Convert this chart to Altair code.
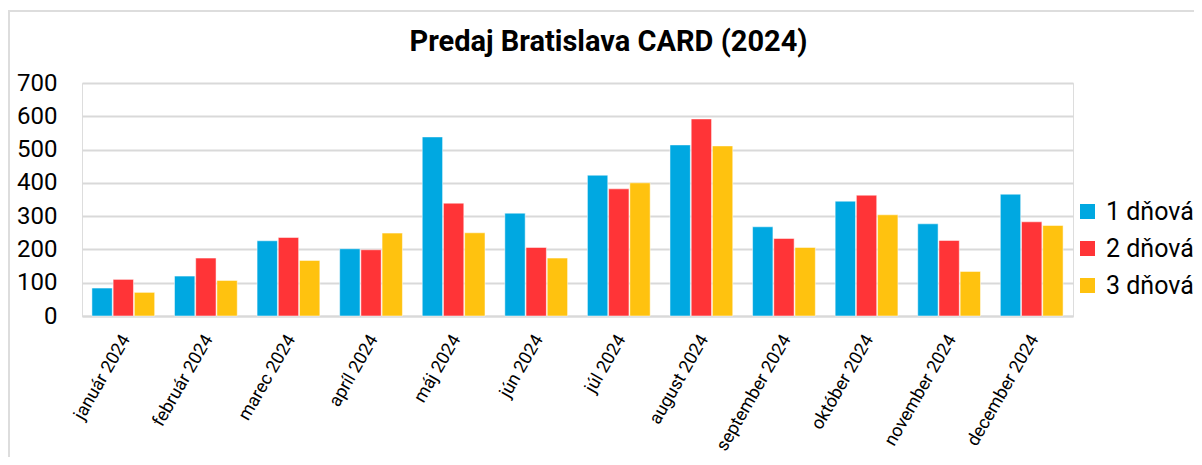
import altair as alt
import pandas as pd

months = ["január 2024", "február 2024", "marec 2024", "apríl 2024", "máj 2024", "jún 2024",
          "júl 2024", "august 2024", "september 2024", "október 2024", "november 2024", "december 2024"]
series = ["1 dňová", "2 dňová", "3 dňová"]
one_day = [84, 120, 226, 202, 538, 309, 423, 514, 268, 345, 277, 366]
two_day = [110, 174, 236, 199, 339, 206, 382, 592, 233, 363, 227, 283]
three_day = [71, 107, 167, 249, 250, 174, 400, 511, 206, 304, 134, 272]
colors = ["#00A8E1", "#FF3437", "#FFC20F"]
y_ticks = [0, 100, 200, 300, 400, 500, 600, 700]

rows = []
for s, vals in zip(series, [one_day, two_day, three_day]):
    for m, v in zip(months, vals):
        rows.append({"month": m, "type": s, "value": v})
df = pd.DataFrame(rows)

FONT = "Roboto"

bars = alt.Chart(df).mark_bar(stroke="white", strokeWidth=1, strokeOpacity=0.5).encode(
    x=alt.X("month:N", sort=months, title=None,
            scale=alt.Scale(paddingInner=0.24, paddingOuter=0.12),
            axis=alt.Axis(labelAngle=-60, labelFontSize=18, labelColor="#000000", labelFont=FONT,
                          ticks=False, domain=True, domainColor="#D9D9D9", domainWidth=2,
                          labelPadding=20, labelOffset=3, grid=False)),
    xOffset=alt.XOffset("type:N", sort=series, scale=alt.Scale(paddingInner=0.04)),
    y=alt.Y("value:Q", title=None,
            scale=alt.Scale(domain=[0, 700], nice=False),
            axis=alt.Axis(values=y_ticks, labelFontSize=24, labelColor="#000000", labelFont=FONT,
                          ticks=False, domain=False, labelPadding=25,
                          gridColor="#D9D9D9", gridWidth=2)),
    color=alt.Color("type:N", sort=series, title=None,
                    scale=alt.Scale(domain=series, range=colors),
                    legend=alt.Legend(orient="none", legendX=993, legendY=116,
                                      symbolType="square", symbolSize=225, symbolStrokeWidth=0,
                                      labelFontSize=25, labelFont=FONT, labelColor="#000000",
                                      rowPadding=11, labelOffset=6)),
)

border = alt.Chart(pd.DataFrame({"k": [0]})).mark_rule(color="#DDDDDD", strokeWidth=2).encode(
    x=alt.value(-74), x2=alt.value(1150), y=alt.value(-72)
)
border_left = alt.Chart(pd.DataFrame({"k": [0]})).mark_rule(color="#DDDDDD", strokeWidth=2).encode(
    x=alt.value(-73), y=alt.value(-73), y2=alt.value(400)
)

chart = alt.layer(border, border_left, bars).properties(
    width=991, height=233,
    autosize=alt.AutoSizeParams(type="none"),
    padding={"left": 74, "top": 75, "right": 121, "bottom": 141},
    title=alt.Title("Predaj Bratislava CARD (2024)", fontSize=29, font=FONT, fontWeight="bold",
                    color="#000000", anchor="middle", dx=31, offset=-71, baseline="alphabetic"),
).configure_view(stroke=None).configure(background="white")

chart.save("out.html", embed_options={"renderer": "svg", "actions": False})
